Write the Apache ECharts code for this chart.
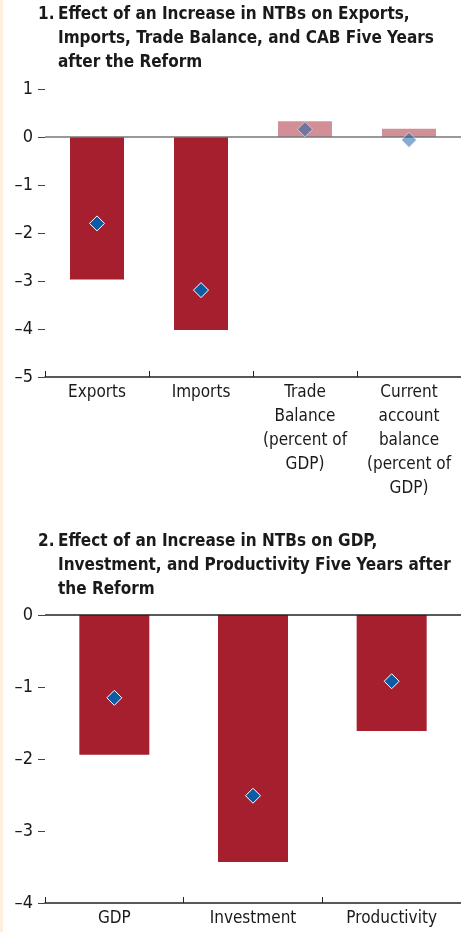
<!DOCTYPE html>
<html><head><meta charset="utf-8">
<script src="https://cdn.jsdelivr.net/npm/echarts@6/dist/echarts.min.js"></script>
<style>html,body{margin:0;padding:0;background:#fff}#c{width:461px;height:932px}</style>
</head><body><div id="c"></div>
<script>
// ---- data ----
const cats1 = ['Exports', 'Imports', 'Trade\nBalance\n(percent of\nGDP)', 'Current\naccount\nbalance\n(percent of\nGDP)'];
const bars1 = [-2.97, -4.02, 0.33, 0.17];
const points1 = [-1.80, -3.19, 0.16, -0.06];
const significant1 = [true, true, false, false];
const yTicks1 = [-5, -4, -3, -2, -1, 0, 1];

const cats2 = ['GDP', 'Investment', 'Productivity'];
const bars2 = [-1.94, -3.43, -1.61];
const points2 = [-1.15, -2.51, -0.92];
const significant2 = [true, true, true];
const yTicks2 = [-4, -3, -2, -1, 0];

const title1 = ['Effect of an Increase in NTBs on Exports,', 'Imports, Trade Balance, and CAB Five Years', 'after the Reform'];
const title2 = ['Effect of an Increase in NTBs on GDP,', 'Investment, and Productivity Five Years after', 'the Reform'];

// ---- style ----
const FONT = '"Liberation Sans Narrow","DejaVu Sans Condensed","Roboto Condensed","Liberation Sans",sans-serif';
const RED = '#a51f2f';
const BLUE = '#0b5ba6';
const TXT = '#1a1a1a';

const chart = echarts.init(document.getElementById('c'), null, {renderer: 'canvas'});

function yAxisCfg(ticks, gi) {
  return {
    type: 'value', gridIndex: gi,
    min: ticks[0], max: ticks[ticks.length - 1], interval: 1,
    axisLine: {show: false},
    axisTick: {show: true, length: 7, lineStyle: {color: '#444', width: 1}},
    splitLine: {show: false},
    axisLabel: {
      color: TXT, fontFamily: FONT, fontSize: 18, margin: 12,
      formatter: v => String(v).replace('-', '\u2013')
    }
  };
}
function xAxisCfg(cats, gi) {
  return {
    type: 'category', gridIndex: gi, data: cats,
    axisLine: {show: true, onZero: false, lineStyle: {color: '#222', width: 1.5}},
    axisTick: {show: true, inside: true, length: 6, lineStyle: {color: '#222', width: 1}},
    axisLabel: {color: TXT, fontFamily: FONT, fontSize: 17, lineHeight: 24, margin: 4, interval: 0}
  };
}
function barData(vals, sig) {
  return vals.map((v, i) => ({value: v, itemStyle: {opacity: sig[i] ? 1 : 0.5}}));
}
function ptData(vals, sig) {
  return vals.map((v, i) => ({value: v, itemStyle: {opacity: sig[i] ? 1 : 0.5}}));
}
function titleCfg(num, lines, top) {
  return [
    {text: num, left: 38, top: top, padding: 0,
     textStyle: {fontFamily: FONT, fontWeight: 'bold', fontSize: 17, lineHeight: 24, color: TXT}},
    {text: lines.join('\n'), left: 58, top: top, padding: 0,
     textStyle: {fontFamily: FONT, fontWeight: 'bold', fontSize: 17, lineHeight: 24, color: TXT}}
  ];
}

const option = {
  animation: false,
  backgroundColor: '#fff',
  graphic: [{type: 'rect', left: 0, top: 0, shape: {width: 3, height: 932}, style: {fill: '#fdeee0'}}],
  title: [].concat(titleCfg('1.', title1, 3), titleCfg('2.', title2, 530)),
  grid: [
    {left: 45, top: 89, width: 418, height: 288},
    {left: 45, top: 615, width: 417, height: 288}
  ],
  xAxis: [xAxisCfg(cats1, 0), xAxisCfg(cats2, 1)],
  yAxis: [yAxisCfg(yTicks1, 0), yAxisCfg(yTicks2, 1)],
  series: [
    {type: 'bar', xAxisIndex: 0, yAxisIndex: 0, barWidth: 54, itemStyle: {color: RED},
     data: barData(bars1, significant1),
     markLine: {silent: true, symbol: 'none', label: {show: false},
       lineStyle: {color: '#777', width: 1.5, type: 'solid'}, data: [{yAxis: 0}]}},
    {type: 'scatter', xAxisIndex: 0, yAxisIndex: 0, symbol: 'diamond', symbolSize: 15, z: 5,
     itemStyle: {color: BLUE, borderColor: '#fff', borderWidth: 1},
     data: ptData(points1, significant1)},
    {type: 'bar', xAxisIndex: 1, yAxisIndex: 1, barWidth: 70, itemStyle: {color: RED},
     data: barData(bars2, significant2),
     markLine: {silent: true, symbol: 'none', label: {show: false},
       lineStyle: {color: '#222', width: 1.5, type: 'solid'}, data: [{yAxis: 0}]}},
    {type: 'scatter', xAxisIndex: 1, yAxisIndex: 1, symbol: 'diamond', symbolSize: 15, z: 5,
     itemStyle: {color: BLUE, borderColor: '#fff', borderWidth: 1},
     data: ptData(points2, significant2)}
  ]
};
chart.setOption(option);
</script>
</body></html>
